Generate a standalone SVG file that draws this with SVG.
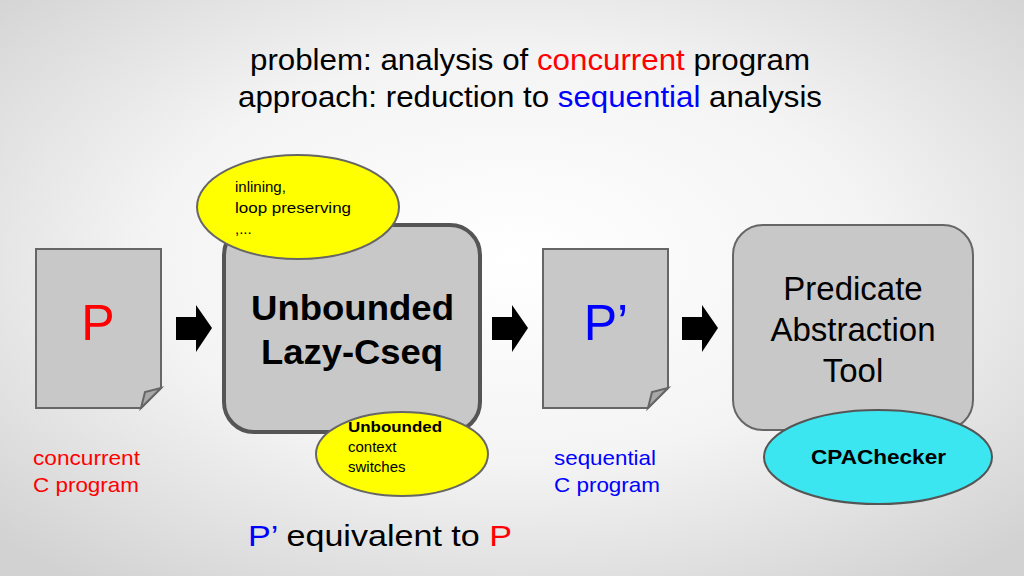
<svg xmlns="http://www.w3.org/2000/svg" width="1024" height="576" viewBox="0 0 1024 576">
<defs>
<radialGradient id="bg" cx="0.5" cy="0.45" r="0.7">
<stop offset="0" stop-color="#ffffff"/><stop offset="0.5" stop-color="#f4f4f4"/><stop offset="1" stop-color="#d2d2d2"/>
</radialGradient>
<path id="arr" d="M0,12 H20 V0 L36,23 L20,47 V35 H0 Z"/>
</defs>
<style>
text{font-family:"Liberation Sans",Arial,sans-serif}
.doc{fill:#c8c8c8;stroke:#666;stroke-width:2}
.fold{fill:#a8a8a8;stroke:#666;stroke-width:2}
.yel{fill:#ffff00;stroke:#666;stroke-width:2}
</style>
<rect width="1024" height="576" fill="url(#bg)"/>
<g id="title" font-size="29" fill="#000">
<text x="250" y="70" textLength="560" lengthAdjust="spacingAndGlyphs">problem: analysis of <tspan fill="#ff0000">concurrent</tspan> program</text>
<text x="238" y="107" textLength="584" lengthAdjust="spacingAndGlyphs">approach: reduction to <tspan fill="#0000ff">sequential</tspan> analysis</text>
</g>
<g id="connectors">
<use href="#arr" x="176" y="305"/>
<use href="#arr" x="492" y="305"/>
<use href="#arr" x="682" y="305"/>
</g>
<g id="docP">
<path class="doc" d="M36,249 H161 V388 L141,408 H36 Z"/>
<path class="fold" d="M161,388 L145,392 L141,408 Z"/>
<text x="98" y="340" font-size="50" fill="#ff0000" text-anchor="middle">P</text>
<text x="33" y="465" font-size="21" fill="#ff0000" textLength="107" lengthAdjust="spacingAndGlyphs">concurrent</text>
<text x="33" y="492" font-size="21" fill="#ff0000" textLength="106" lengthAdjust="spacingAndGlyphs">C program</text>
</g>
<g id="lazy">
<rect x="224" y="225" width="256" height="207" rx="30" fill="#c8c8c8" stroke="#555" stroke-width="4"/>
<text x="251" y="320" font-size="35" font-weight="bold" textLength="203" lengthAdjust="spacingAndGlyphs">Unbounded</text>
<text x="261" y="364" font-size="35" font-weight="bold" textLength="182" lengthAdjust="spacingAndGlyphs">Lazy-Cseq</text>
</g>
<g id="bubbleTop">
<ellipse class="yel" cx="298" cy="207" rx="101" ry="52"/>
<text x="235" y="192" font-size="15">inlining,</text>
<text x="235" y="213" font-size="15" textLength="116" lengthAdjust="spacingAndGlyphs">loop preserving</text>
<text x="235" y="234" font-size="15">,...</text>
</g>
<g id="bubbleBottom">
<ellipse class="yel" cx="402" cy="454" rx="86" ry="42"/>
<text x="348" y="432" font-size="15" font-weight="bold" textLength="94" lengthAdjust="spacingAndGlyphs">Unbounded</text>
<text x="348" y="452" font-size="15">context</text>
<text x="348" y="472" font-size="15">switches</text>
</g>
<g id="docP2">
<path class="doc" d="M543,249 H668 V388 L648,408 H543 Z"/>
<path class="fold" d="M668,388 L652,392 L648,408 Z"/>
<text x="606" y="340" font-size="50" fill="#0000ff" text-anchor="middle">P’</text>
<text x="554" y="465" font-size="21" fill="#0000ff" textLength="102" lengthAdjust="spacingAndGlyphs">sequential</text>
<text x="554" y="492" font-size="21" fill="#0000ff" textLength="106" lengthAdjust="spacingAndGlyphs">C program</text>
</g>
<g id="predicate">
<rect x="733" y="225" width="240" height="205" rx="30" fill="#c8c8c8" stroke="#666" stroke-width="2"/>
<text x="853" y="300" font-size="33" text-anchor="middle">Predicate</text>
<text x="853" y="341" font-size="33" text-anchor="middle">Abstraction</text>
<text x="853" y="382" font-size="33" text-anchor="middle">Tool</text>
</g>
<g id="cpa">
<ellipse cx="878" cy="457" rx="114" ry="47" fill="#3ce6f0" stroke="#555" stroke-width="2"/>
<text x="811" y="464" font-size="21" font-weight="bold" textLength="135" lengthAdjust="spacingAndGlyphs">CPAChecker</text>
</g>
<g id="footer" font-size="30">
<text x="248" y="546" textLength="264" lengthAdjust="spacingAndGlyphs"><tspan fill="#0000ff">P’</tspan> equivalent to <tspan fill="#ff0000">P</tspan></text>
</g>
</svg>
